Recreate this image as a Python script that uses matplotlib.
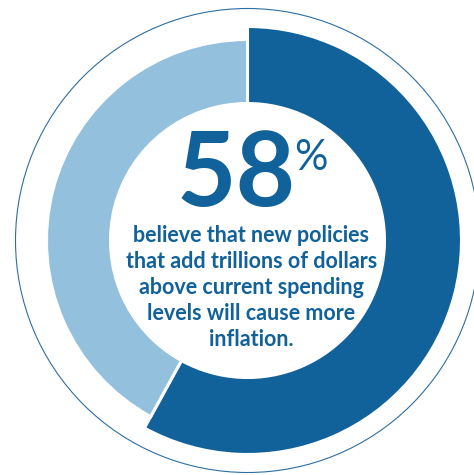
import matplotlib.pyplot as plt
from matplotlib.patches import Circle

# share of respondents
labels = ['believe', 'other']
values = [58, 42]
big_number = '58'
caption = ['believe that new policies',
           'that add trillions of dollars',
           'above current spending',
           'levels will cause more',
           'inflation.']

dark = '#11619A'
light = '#93C1DD'

fig = plt.figure(figsize=(4.74, 4.75), dpi=100)
ax = fig.add_axes([0, 0, 1, 1])

cx, cy = 247.5, 475 - 240.5
r_in = 137

# dark part is thicker than the light part
w1, _ = ax.pie(values, radius=214, center=(cx, cy), startangle=90, counterclock=False,
               colors=[dark, light], wedgeprops=dict(width=214 - r_in, edgecolor='white', linewidth=2.2),
               frame=True)
w1[1].set_visible(False)
w2, _ = ax.pie(values, radius=201, center=(cx, cy), startangle=90, counterclock=False,
               colors=[dark, light], wedgeprops=dict(width=201 - r_in, edgecolor='white', linewidth=2.2),
               frame=True)
w2[0].set_visible(False)

ax.set_xlim(0, 474)
ax.set_ylim(0, 475)
ax.set_aspect('equal')
ax.axis('off')

ax.add_patch(Circle((cx, cy), 232, fill=False, edgecolor='#2D6EA3', linewidth=0.8))

fnt = 'Lato'
ax.text(236, 475 - 176, big_number, ha='center', va='center', fontsize=74,
        fontweight='bold', color=dark, family=fnt)
ax.text(311, 475 - 158, '%', ha='center', va='center', fontsize=30,
        color=dark, family=fnt)

y0 = 236
for i, line in enumerate(caption):
    ax.text(251.5, 475 - (y0 + 25.8 * i), line, ha='center', va='center',
            fontsize=15.5, fontweight='bold', color=dark, family=fnt)

fig.savefig('out.png', dpi=100)
